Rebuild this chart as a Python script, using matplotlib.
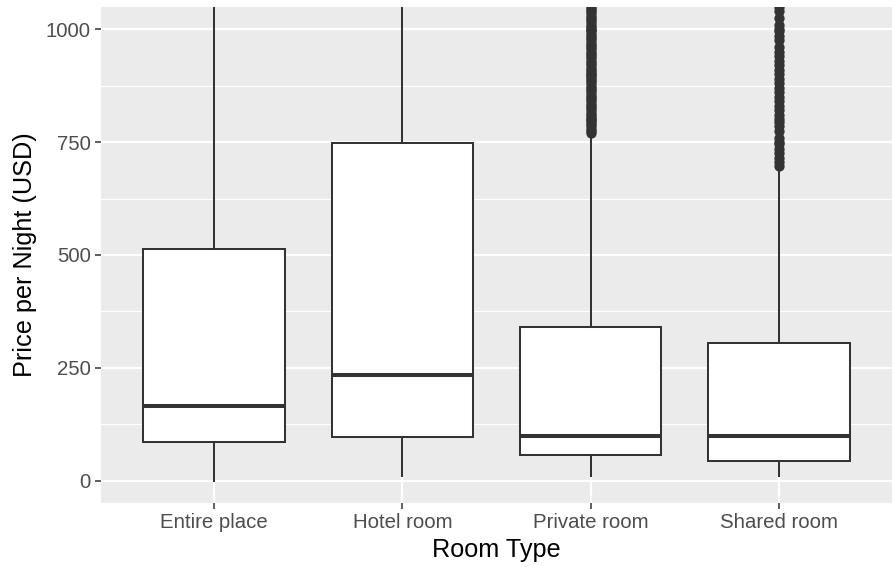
import matplotlib
matplotlib.use("Agg")
import matplotlib.pyplot as plt
from matplotlib.ticker import MultipleLocator

plt.rcParams["font.family"] = ["Liberation Sans", "DejaVu Sans"]

# ---- data ----
room_types = ["Entire place", "Hotel room", "Private room", "Shared room"]
q1 = [86, 97, 57, 44]
median = [166, 235, 100, 100]
q3 = [513, 748, 341, 305]
whisk_lo = [0, 11, 10, 10]
whisk_hi = [1150, 1700, 765, 690]

private_outliers = [770, 775, 780, 785, 790, 795, 799, 800, 805, 810, 815, 820,
                    825, 830, 835, 840, 845, 850, 855, 860, 865, 870, 875, 880,
                    885, 890, 895, 899, 900, 905, 910, 915, 920, 925, 930, 935,
                    940, 945, 950, 955, 960, 965, 970, 975, 980, 985, 990, 995,
                    999, 1000, 1005, 1010, 1015, 1020, 1025, 1030, 1035, 1040,
                    1045, 1050]
shared_outliers = [698, 705, 715, 725, 735, 745, 750, 760, 775, 785, 795, 800,
                   810, 820, 830, 840, 850, 860, 870, 880, 890, 900, 910, 920,
                   930, 940, 950, 960, 975, 985, 995, 1000, 1010, 1025, 1040,
                   1050]
outliers = [[], [], private_outliers, shared_outliers]

y_ticks = [0, 250, 500, 750, 1000]

# ---- build box stats ----
stats = []
for i, name in enumerate(room_types):
    stats.append(dict(label=name, q1=q1[i], med=median[i], q3=q3[i],
                      whislo=whisk_lo[i], whishi=whisk_hi[i], fliers=outliers[i]))

EDGE = "#333333"
fig = plt.figure(figsize=(8.93, 5.67), dpi=100)
ax = fig.add_axes([101 / 893, 64 / 567, 791 / 893, 496 / 567])
ax.set_facecolor("#EBEBEB")

ax.bxp(stats, positions=range(1, 5), widths=0.75, showcaps=False,
       patch_artist=True,
       boxprops=dict(facecolor="white", edgecolor=EDGE, linewidth=1.45),
       whiskerprops=dict(color=EDGE, linewidth=1.45),
       medianprops=dict(color=EDGE, linewidth=2.9, solid_capstyle="butt"),
       flierprops=dict(marker="o", markerfacecolor=EDGE, markeredgecolor=EDGE,
                       markersize=6.4, linestyle="none"),
       zorder=3)

ax.set_xlim(0.4, 4.6)
ax.set_ylim(-49, 1049)
ax.set_yticks(y_ticks)
ax.yaxis.set_minor_locator(MultipleLocator(125))
ax.set_xticks(range(1, 5))
ax.set_xticklabels(room_types)

ax.grid(which="major", color="white", linewidth=1.6, zorder=0)
ax.grid(which="minor", axis="y", color="white", linewidth=0.8, zorder=0)
ax.set_axisbelow(True)

for s in ax.spines.values():
    s.set_visible(False)
ax.tick_params(which="major", length=4.5, width=1.1, color=EDGE,
               labelcolor="#4D4D4D", labelsize=14.7, pad=3)
ax.tick_params(which="minor", length=0)

ax.set_xlabel("Room Type", fontsize=18.2, color="black", labelpad=4)
ax.set_ylabel("Price per Night (USD)", fontsize=18.2, color="black", labelpad=6)

fig.savefig("out.png", dpi=100)
